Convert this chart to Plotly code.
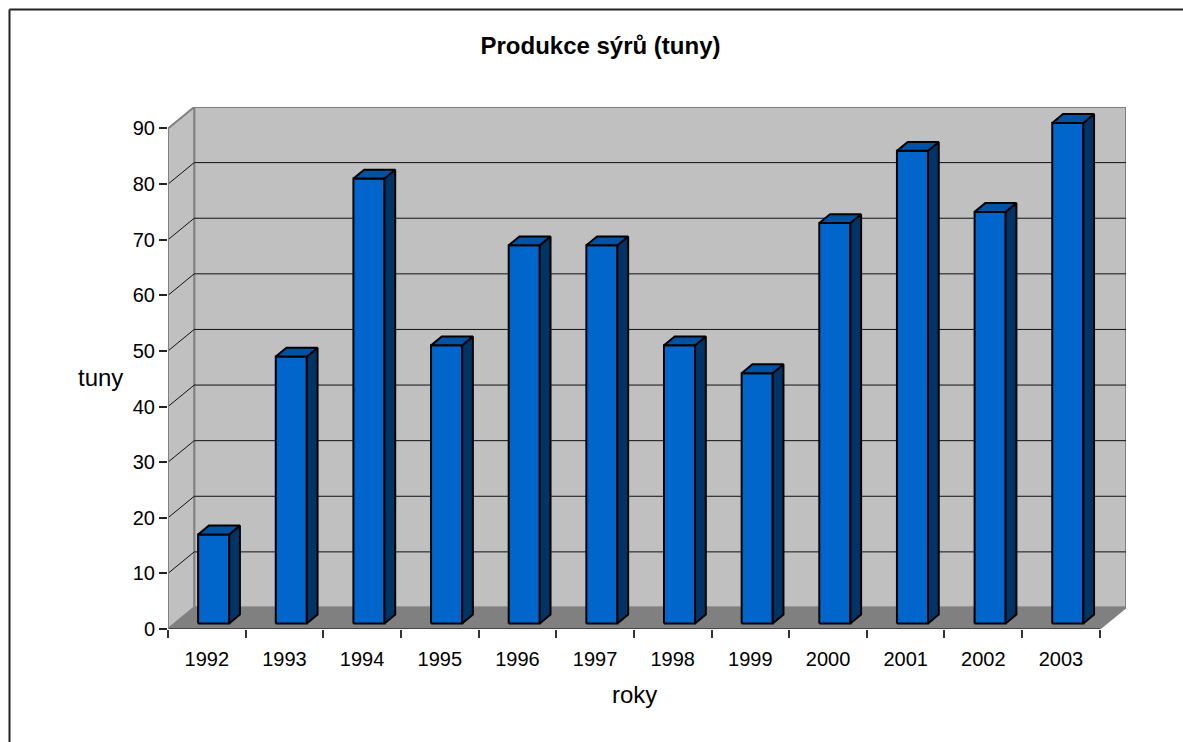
import plotly.graph_objects as go

# ---- data ----
years = ["1992", "1993", "1994", "1995", "1996", "1997",
         "1998", "1999", "2000", "2001", "2002", "2003"]
values = [16, 48, 80, 50, 68, 68, 50, 45, 72, 85, 74, 90]
y_ticks = [0, 10, 20, 30, 40, 50, 60, 70, 80, 90]

title_text = "Produkce sýrů (tuny)"
x_title = "roky"
y_title = "tuny"

# ---- 3D geometry (in axis units) ----
N = len(years)
YMAX = 90
DX = 0.3377   # depth offset in category units
DY = 3.865    # depth offset in value units
F0, F1 = 0.26, 0.67   # bar depth span as fraction of floor depth
BAR_L, BAR_W = 0.30, 0.40

WALL = "#C0C0C0"
FLOOR = "#808080"
EDGE = "#808080"
FRONT = "#0066CC"
SIDE = "#003366"
TOP = "#0052A3"

fig = go.Figure()


def poly(xs, ys, fill, line_color, line_width):
    fig.add_trace(go.Scatter(
        x=list(xs) + [xs[0]], y=list(ys) + [ys[0]],
        mode="lines", fill="toself", fillcolor=fill,
        line=dict(color=line_color, width=line_width),
        hoverinfo="skip", showlegend=False))


def seg(xs, ys, color, width):
    fig.add_trace(go.Scatter(
        x=xs, y=ys, mode="lines",
        line=dict(color=color, width=width),
        hoverinfo="skip", showlegend=False, connectgaps=False))


# back wall
poly([DX, N + DX, N + DX, DX], [DY, DY, YMAX + DY, YMAX + DY], WALL, EDGE, 2)
# left wall
poly([0, DX, DX, 0], [0, DY, YMAX + DY, YMAX], WALL, EDGE, 2)

# gridlines (back wall + left wall diagonals)
gx, gy = [], []
for v in y_ticks[1:-1]:
    gx += [0, DX, N + DX, None]
    gy += [v, v + DY, v + DY, None]
seg(gx, gy, "#111111", 1)

# floor
poly([0, N, N + DX, DX], [0, 0, DY, DY], FLOOR, EDGE, 1.5)
# front axis line
seg([0, N], [0, 0], "#333333", 1.5)
# left front edge
seg([0, 0], [0, YMAX], EDGE, 2)

# bars
ddx = (F1 - F0) * DX
ddy = (F1 - F0) * DY
for i, h in enumerate(values):
    x0 = i + BAR_L + F0 * DX
    x1 = x0 + BAR_W
    y0 = F0 * DY
    y1 = h + F0 * DY
    # front
    poly([x0, x1, x1, x0], [y0, y0, y1, y1], FRONT, "black", 2)
    # side
    poly([x1, x1 + ddx, x1 + ddx, x1], [y0, y0 + ddy, y1 + ddy, y1], SIDE, "black", 2)
    # top
    poly([x0, x1, x1 + ddx, x0 + ddx], [y1, y1, y1 + ddy, y1 + ddy], TOP, "black", 2)

FONT = "Liberation Sans, Arial, sans-serif"
L, R, T, B = 168, 57, 107, 113
W, H = 1183, 742
pw, ph = W - L - R, H - T - B


def px_x(px):
    return (px - L) / pw


def px_y(py):
    return (H - B - py) / ph


border = dict(color="#222222", width=2)
clear = "rgba(0,0,0,0)"

fig.update_layout(
    width=W, height=H,
    margin=dict(l=L, r=R, t=T, b=B, pad=0),
    paper_bgcolor="white", plot_bgcolor="white",
    showlegend=False,
    modebar=dict(bgcolor=clear, color=clear, activecolor=clear),
    font=dict(family=FONT, color="black"),
    title=dict(text="<b>" + title_text + "</b>", x=600.5 / W, y=1 - 46 / H,
               xanchor="center", yanchor="middle",
               font=dict(family=FONT, size=24, color="black")),
    xaxis=dict(range=[0, N + DX], showgrid=False, zeroline=False, showline=False,
               tickmode="array", tickvals=[i + 0.5 for i in range(N)], ticktext=years,
               ticks="outside", ticklen=8, tickcolor=clear,
               ticklabelstandoff=4,
               tickfont=dict(family=FONT, size=20, color="black"),
               minor=dict(ticks="outside", tickmode="linear", tick0=0, dtick=1,
                          ticklen=8, tickcolor="#333333", tickwidth=1.5),
               fixedrange=True),
    yaxis=dict(range=[0, YMAX + DY], showgrid=False, zeroline=False, showline=False,
               tickmode="array", tickvals=y_ticks,
               ticktext=[str(v) for v in y_ticks],
               ticks="outside", ticklen=8, tickcolor="#222222", tickwidth=1.5,
               tickfont=dict(family=FONT, size=20, color="black"),
               fixedrange=True),
    annotations=[
        dict(text=x_title, xref="paper", yref="paper", x=px_x(634), y=px_y(694),
             xanchor="center", yanchor="middle", showarrow=False,
             font=dict(family=FONT, size=24, color="black")),
        dict(text=y_title, xref="paper", yref="paper", x=px_x(100), y=px_y(378),
             xanchor="center", yanchor="middle", showarrow=False,
             font=dict(family=FONT, size=24, color="black")),
    ],
    shapes=[
        dict(type="line", xref="paper", yref="paper",
             x0=px_x(9.5), x1=px_x(9.5), y0=px_y(760), y1=px_y(9.5),
             line=border, layer="above"),
        dict(type="line", xref="paper", yref="paper",
             x0=px_x(9.5), x1=px_x(1200), y0=px_y(9.5), y1=px_y(9.5),
             line=border, layer="above"),
    ],
)

fig.write_html(
    "out.html",
    post_script=(
        "document.documentElement.style.overflow='hidden';"
        "document.documentElement.style.margin='0';"
        "document.body.style.margin='0';"
        "document.body.style.overflow='hidden';"
        "document.querySelectorAll('.modebar-container').forEach(function(e){e.style.opacity='0';});"
    ),
)
